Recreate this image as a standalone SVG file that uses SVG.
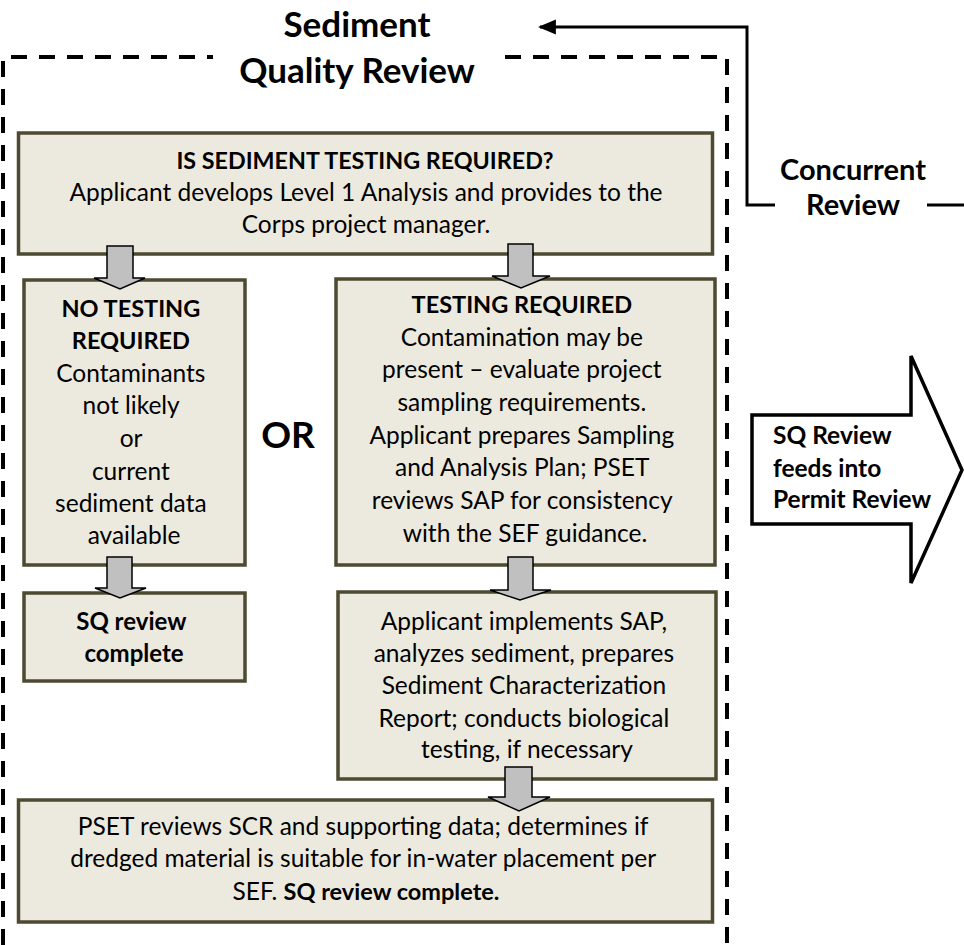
<svg xmlns="http://www.w3.org/2000/svg" width="964" height="945" viewBox="0 0 964 945">
<defs>
<style>
.box{fill:#ECEADF;stroke:#4E4A31;stroke-width:3.5}
.ga{fill:#C0C0C0;stroke:#000;stroke-width:1.5;stroke-linejoin:miter}
.t{font-family:Lato,"Liberation Sans",sans-serif;fill:#000;text-anchor:middle;font-size:24.5px}
.b{font-weight:bold;font-size:23.5px}
.line{fill:none;stroke:#000;stroke-width:3}
.dash{fill:none;stroke:#000;stroke-width:4;stroke-dasharray:16 12}
</style>
<marker id="ah" markerWidth="6" markerHeight="6" refX="5.3" refY="2.5" orient="auto" markerUnits="strokeWidth" viewBox="0 0 6 5">
<path d="M0,0 L6,2.5 L0,5 z" fill="#000"/>
</marker>
</defs>
<rect width="964" height="945" fill="#fff"/>

<g id="frame">
<path class="dash" d="M3,945 V57 H213"/>
<path class="dash" d="M505,57 H727 V945"/>
<text class="t b" x="357" y="37" font-size="35" style="font-size:35px">Sediment</text>
<text class="t b" x="357" y="83" style="font-size:35px">Quality Review</text>
</g>

<g id="connectors">
<path class="line" d="M775,205 H747 V27 H540" marker-end="url(#ah)"/>
<path class="line" d="M927,205 H964"/>
<text class="t b" x="853" y="180" style="font-size:29px">Concurrent</text>
<text class="t b" x="853" y="215" style="font-size:29px">Review</text>
</g>

<g id="node-top">
<rect class="box" x="18.5" y="133" width="694" height="121"/>
<text class="t b" x="365" y="169" style="font-size:23.3px">IS SEDIMENT TESTING REQUIRED?</text>
<text class="t" x="366" y="201">Applicant develops Level 1 Analysis and provides to the</text>
<text class="t" x="366" y="233">Corps project manager.</text>
</g>

<g id="node-no-testing">
<rect class="box" x="24" y="280" width="221" height="285"/>
<text class="t" x="134">
<tspan class="b" x="134" y="317">NO TESTING</tspan>
<tspan class="b" x="134" y="349">REQUIRED</tspan>
<tspan x="134" y="382">Contaminants</tspan>
<tspan x="134" y="414">not likely</tspan>
<tspan x="134" y="447">or</tspan>
<tspan x="134" y="480">current</tspan>
<tspan x="134" y="512">sediment data</tspan>
<tspan x="134" y="544">available</tspan>
</text>
</g>

<g id="or-label">
<text class="t b" x="288" y="448" style="font-size:37px">OR</text>
</g>

<g id="node-testing">
<rect class="box" x="336" y="279" width="379" height="286"/>
<text class="t" x="525">
<tspan class="b" x="525" y="313">TESTING REQUIRED</tspan>
<tspan x="525" y="346">Contamination may be</tspan>
<tspan x="525" y="378">present – evaluate project</tspan>
<tspan x="525" y="411">sampling requirements.</tspan>
<tspan x="525" y="444">Applicant prepares Sampling</tspan>
<tspan x="525" y="476">and Analysis Plan; PSET</tspan>
<tspan x="525" y="509">reviews SAP for consistency</tspan>
<tspan x="525" y="542">with the SEF guidance.</tspan>
</text>
</g>

<g id="node-sq-complete">
<rect class="box" x="24" y="593" width="221" height="88"/>
<text class="t b" x="134" style="font-size:24px">
<tspan x="134" y="630">SQ review</tspan>
<tspan x="134" y="662">complete</tspan>
</text>
</g>

<g id="node-implements">
<rect class="box" x="338" y="592" width="378" height="187"/>
<text class="t" x="527">
<tspan x="527" y="630">Applicant implements SAP,</tspan>
<tspan x="527" y="662">analyzes sediment, prepares</tspan>
<tspan x="527" y="694">Sediment Characterization</tspan>
<tspan x="527" y="727">Report; conducts biological</tspan>
<tspan x="527" y="758">testing, if necessary</tspan>
</text>
</g>

<g id="node-bottom">
<rect class="box" x="18.5" y="800" width="694" height="122"/>
<text class="t" x="366">
<tspan x="366" y="835">PSET reviews SCR and supporting data; determines if</tspan>
<tspan x="366" y="867">dredged material is suitable for in-water placement per</tspan>
<tspan x="366" y="900">SEF. <tspan class="b">SQ review complete.</tspan></tspan>
</text>
</g>

<g id="arrows">
<polygon class="ga" points="107,246 133,246 133,278 145,278 120,289 94,278 107,278"/>
<polygon class="ga" points="508,244 533,244 533,276 550,276 521,288 492,276 508,276"/>
<polygon class="ga" points="107,557 132,557 132,588 146,588 120,598 95,588 107,588"/>
<polygon class="ga" points="508,557 533,557 533,590 551,590 520,600 490,590 508,590"/>
<polygon class="ga" points="505,767 532,767 532,797 550,797 519,811 488,797 505,797"/>
</g>

<g id="node-permit">
<polygon points="752,415 911,415 911,356 962,470 911,583 911,524 752,524" fill="#fff" stroke="#000" stroke-width="3.5"/>
<text class="t b" style="text-anchor:start;font-size:24.5px">
<tspan x="773" y="444">SQ Review</tspan>
<tspan x="773" y="477">feeds into</tspan>
<tspan x="773" y="508">Permit Review</tspan>
</text>
</g>
</svg>
